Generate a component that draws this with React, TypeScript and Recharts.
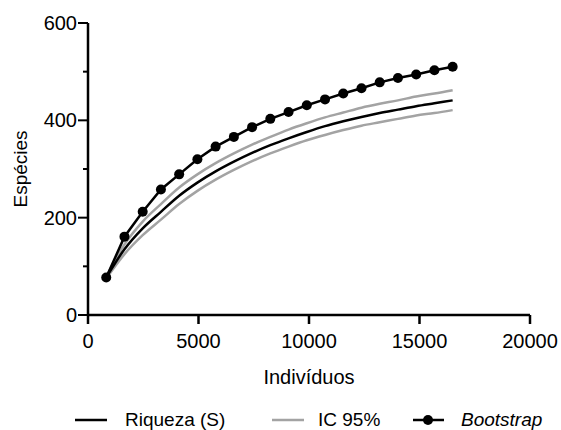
import { LineChart, Line, XAxis, YAxis } from 'recharts'

// individuos amostrados (eixo x)
const individuos = [825, 1650, 2475, 3300, 4125, 4950, 5775, 6600, 7425, 8250, 9075, 9900, 10725, 11550, 12375, 13200, 14025, 14850, 15675, 16500]
// riqueza observada (S)
const riqueza = [77, 135, 178, 212, 245, 272, 295, 315, 333, 349, 363, 376, 388, 398, 407, 415, 422, 429, 435, 441]
// intervalo de confiança 95%
const icSup = [79, 145, 192, 228, 262, 289, 312, 332, 350, 366, 381, 394, 406, 416, 426, 434, 441, 449, 455, 462]
const icInf = [75, 125, 164, 196, 228, 255, 278, 298, 316, 332, 346, 359, 370, 380, 389, 396, 403, 410, 415, 421]
// estimador Bootstrap
const bootstrap = [77, 161, 212, 258, 289, 320, 346, 366, 386, 403, 417, 431, 443, 455, 466, 478, 487, 494, 503, 510]

const xTicks = [0, 5000, 10000, 15000, 20000]
const yTicks = [0, 100, 200, 300, 400, 500, 600]

const FONT = '"Liberation Sans", Arial, sans-serif'
const GRAY = '#a3a3a3'

const data = individuos.map((x, i) => ({
  x,
  s: riqueza[i],
  sup: icSup[i],
  inf: icInf[i],
  boot: bootstrap[i],
}))

// tick do eixo y: maior com rótulo, menor só o traço
const YTick = (props: any) => {
  const { x, y, payload } = props
  const axisX = x + 14
  const major = payload.value % 200 === 0
  return (
    <g>
      <line x1={axisX - (major ? 10 : 5)} y1={y} x2={axisX} y2={y} stroke="#000" strokeWidth={2} />
      {major && (
        <text x={axisX - 11} y={y} dy="0.35em" textAnchor="end" fontSize={20} fontFamily={FONT} fill="#000">
          {payload.value}
        </text>
      )}
    </g>
  )
}

const YLabel = (props: any) => {
  const { viewBox } = props
  const cy = viewBox.y + viewBox.height / 2
  return (
    <text x={20} y={cy} transform={`rotate(-90, 20, ${cy})`} dy="0.35em" textAnchor="middle" fontSize={19} fontFamily={FONT} fill="#000">
      Espécies
    </text>
  )
}

export default function App() {
  return (
    <div style={{ position: 'absolute', left: 0, top: 0, width: 561, height: 430, background: '#fff', fontFamily: FONT }}>
      <LineChart width={561} height={430} data={data} margin={{ top: 23, right: 31, left: 18, bottom: 40 }}>
        <XAxis
          dataKey="x"
          type="number"
          domain={[0, 20000]}
          ticks={xTicks}
          height={75}
          stroke="#000"
          strokeWidth={2.5}
          tickSize={9}
          tickMargin={10}
          tick={{ fontSize: 20, fill: '#000', fontFamily: FONT }}
          label={{ value: 'Indivíduos', position: 'insideBottom', offset: 6, fontSize: 20, fill: '#000', fontFamily: FONT }}
        />
        <YAxis
          type="number"
          domain={[0, 600]}
          ticks={yTicks}
          width={70}
          stroke="#000"
          strokeWidth={2.5}
          tickLine={false}
          tickSize={10}
          tickMargin={4}
          tick={<YTick />}
          label={<YLabel />}
        />
        <Line type="monotone" dataKey="sup" stroke={GRAY} strokeWidth={2.5} dot={false} isAnimationActive={false} />
        <Line type="monotone" dataKey="inf" stroke={GRAY} strokeWidth={2.5} dot={false} isAnimationActive={false} />
        <Line type="monotone" dataKey="s" stroke="#000" strokeWidth={2.5} dot={false} isAnimationActive={false} />
        <Line
          type="linear"
          dataKey="boot"
          stroke="#000"
          strokeWidth={2.5}
          dot={{ r: 5, fill: '#000', stroke: '#000', strokeWidth: 0 }}
          isAnimationActive={false}
        />
      </LineChart>

      {/* legenda */}
      <svg width={561} height={30} style={{ position: 'absolute', left: 0, top: 400 }}>
        <line x1={75} y1={20} x2={107} y2={20} stroke="#000" strokeWidth={2.5} />
        <text x={125} y={26} fontSize={19} fontFamily={FONT} fill="#000">Riqueza (S)</text>
        <line x1={272} y1={20} x2={304} y2={20} stroke={GRAY} strokeWidth={2.5} />
        <text x={318} y={26} fontSize={19} fontFamily={FONT} fill="#000">IC 95%</text>
        <line x1={413} y1={20} x2={444} y2={20} stroke="#000" strokeWidth={2.5} />
        <circle cx={428} cy={20} r={5} fill="#000" />
        <text x={461} y={26} fontSize={19} fontFamily={FONT} fontStyle="italic" fill="#000">Bootstrap</text>
      </svg>
    </div>
  )
}
